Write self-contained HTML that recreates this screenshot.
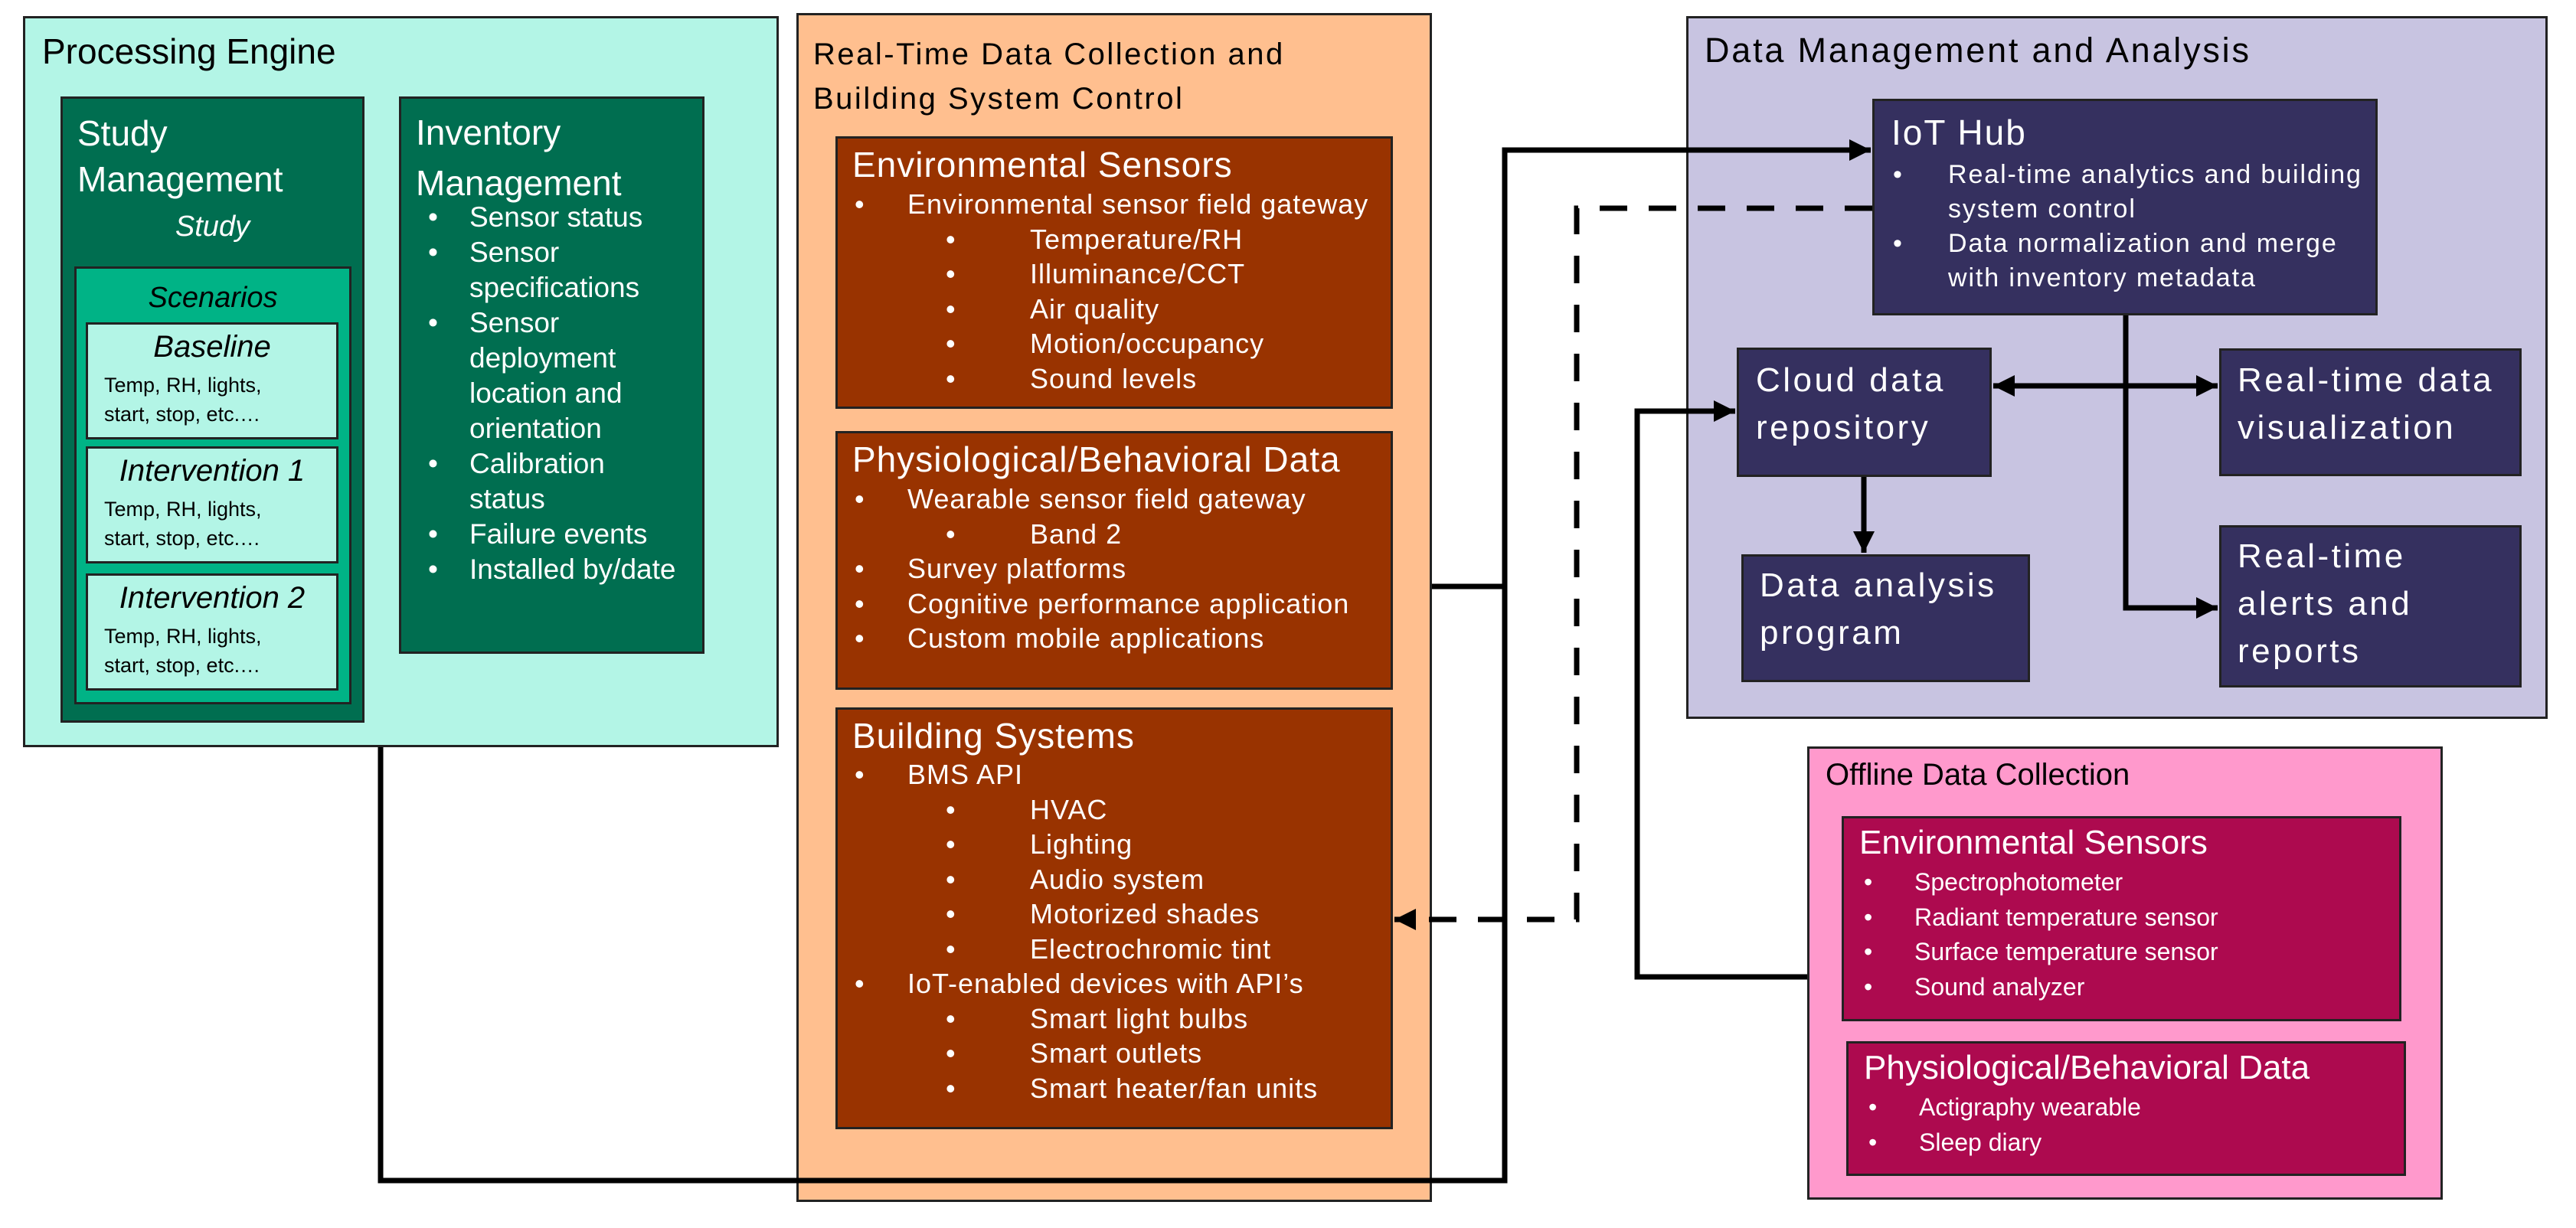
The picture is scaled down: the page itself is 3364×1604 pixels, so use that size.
<!DOCTYPE html>
<html><head><meta charset="utf-8"><style>
*{margin:0;padding:0;box-sizing:border-box}
body{width:3364px;height:1604px;background:#fff;position:relative;overflow:hidden;font-family:"Liberation Sans",sans-serif}
.b{position:absolute;border:3px solid #222}
.t{position:absolute;white-space:nowrap}
.w{color:#fff}
ul{list-style:none}
li{position:relative;white-space:nowrap}
li:before{content:"•";position:absolute;left:-69px}
li.s{margin-left:160px}
li.s:before{left:-110px}
.inv li:before{left:-54px}
.off li:before{left:-66px}
.iot li:before{left:-72px}
.nv{letter-spacing:3.5px;font-size:44px;line-height:62px}
.or{font-size:36px;letter-spacing:1px;line-height:45.5px}
.oh{font-size:46px;letter-spacing:1px}
</style></head><body>

<!-- Processing Engine -->
<div class="b" style="left:30px;top:21px;width:987px;height:955px;background:#b3f5e6"></div>
<div class="t" style="left:55px;top:40px;font-size:46px">Processing Engine</div>
<div class="b" style="left:79px;top:126px;width:397px;height:818px;background:#006e50"></div>
<div class="t w" style="left:101px;top:144px;font-size:46px;line-height:60px">Study<br>Management</div>
<div class="t w" style="left:79px;width:397px;text-align:center;top:275px;font-size:38px;font-style:italic">Study</div>
<div class="b" style="left:97px;top:348px;width:362px;height:572px;background:#00b386"></div>
<div class="t" style="left:97px;width:362px;text-align:center;top:368px;font-size:38px;font-style:italic">Scenarios</div>

<div class="b" style="left:112px;top:421px;width:330px;height:153px;background:#b3f5e6"></div>
<div class="t" style="left:112px;width:330px;text-align:center;top:431px;font-size:40px;font-style:italic">Baseline</div>
<div class="t" style="left:136px;top:484px;font-size:27px;line-height:38px">Temp, RH, lights,<br>start, stop, etc.…</div>
<div class="b" style="left:112px;top:583px;width:330px;height:153px;background:#b3f5e6"></div>
<div class="t" style="left:112px;width:330px;text-align:center;top:593px;font-size:40px;font-style:italic">Intervention 1</div>
<div class="t" style="left:136px;top:646px;font-size:27px;line-height:38px">Temp, RH, lights,<br>start, stop, etc.…</div>
<div class="b" style="left:112px;top:749px;width:330px;height:153px;background:#b3f5e6"></div>
<div class="t" style="left:112px;width:330px;text-align:center;top:759px;font-size:40px;font-style:italic">Intervention 2</div>
<div class="t" style="left:136px;top:812px;font-size:27px;line-height:38px">Temp, RH, lights,<br>start, stop, etc.…</div>

<div class="b" style="left:521px;top:126px;width:399px;height:728px;background:#006e50"></div>
<div class="t w" style="left:543px;top:140px;font-size:46px;line-height:66px">Inventory<br>Management</div>
<ul class="t w inv" style="left:613px;top:261px;font-size:37px;line-height:46px">
<li>Sensor status</li><li>Sensor<br>specifications</li><li>Sensor<br>deployment<br>location and<br>orientation</li><li>Calibration<br>status</li><li>Failure events</li><li>Installed by/date</li></ul>

<!-- Real-time -->
<div class="b" style="left:1040px;top:17px;width:830px;height:1553px;background:#ffbf8f"></div>
<div class="t" style="left:1062px;top:42px;font-size:40px;line-height:58px;letter-spacing:2.5px">Real-Time Data Collection and<br>Building System Control</div>

<div class="b" style="left:1091px;top:178px;width:728px;height:356px;background:#993300"></div>
<div class="t w oh" style="left:1113px;top:188px">Environmental Sensors</div>
<ul class="t w or" style="left:1185px;top:244px">
<li>Environmental sensor field gateway</li><li class="s">Temperature/RH</li><li class="s">Illuminance/CCT</li><li class="s">Air quality</li><li class="s">Motion/occupancy</li><li class="s">Sound levels</li></ul>

<div class="b" style="left:1091px;top:563px;width:728px;height:338px;background:#993300"></div>
<div class="t w oh" style="left:1113px;top:573px">Physiological/Behavioral Data</div>
<ul class="t w or" style="left:1185px;top:629px">
<li>Wearable sensor field gateway</li><li class="s">Band 2</li><li>Survey platforms</li><li>Cognitive performance application</li><li>Custom mobile applications</li></ul>

<div class="b" style="left:1091px;top:924px;width:728px;height:551px;background:#993300"></div>
<div class="t w oh" style="left:1113px;top:934px">Building Systems</div>
<ul class="t w or" style="left:1185px;top:989px">
<li>BMS API</li><li class="s">HVAC</li><li class="s">Lighting</li><li class="s">Audio system</li><li class="s">Motorized shades</li><li class="s">Electrochromic tint</li><li>IoT-enabled devices with API’s</li><li class="s">Smart light bulbs</li><li class="s">Smart outlets</li><li class="s">Smart heater/fan units</li></ul>

<!-- Data mgmt -->
<div class="b" style="left:2202px;top:21px;width:1125px;height:918px;background:#c8c4e1"></div>
<div class="t" style="left:2226px;top:40px;font-size:45px;letter-spacing:2.8px">Data Management and Analysis</div>
<div class="b" style="left:2445px;top:129px;width:660px;height:283px;background:#35305f"></div>
<div class="t w" style="left:2470px;top:146px;font-size:46px;letter-spacing:2px">IoT Hub</div>
<ul class="t w iot" style="left:2544px;top:206px;font-size:34px;line-height:45px;letter-spacing:1.9px">
<li>Real-time analytics and building<br>system control</li><li>Data normalization and merge<br>with inventory metadata</li></ul>
<div class="b" style="left:2268px;top:454px;width:333px;height:169px;background:#35305f"></div>
<div class="t w nv" style="left:2293px;top:466px">Cloud data<br>repository</div>
<div class="b" style="left:2274px;top:724px;width:377px;height:167px;background:#35305f"></div>
<div class="t w nv" style="left:2298px;top:734px">Data analysis<br>program</div>
<div class="b" style="left:2898px;top:455px;width:395px;height:167px;background:#35305f"></div>
<div class="t w nv" style="left:2922px;top:466px">Real-time data<br>visualization</div>
<div class="b" style="left:2898px;top:686px;width:395px;height:212px;background:#35305f"></div>
<div class="t w nv" style="left:2922px;top:696px">Real-time<br>alerts and<br>reports</div>

<!-- Offline -->
<div class="b" style="left:2360px;top:975px;width:830px;height:592px;background:#ff99cc"></div>
<div class="t" style="left:2384px;top:990px;font-size:40px">Offline Data Collection</div>
<div class="b" style="left:2405px;top:1066px;width:731px;height:268px;background:#ad0a4f"></div>
<div class="t w" style="left:2428px;top:1076px;font-size:44px">Environmental Sensors</div>
<ul class="t w off" style="left:2500px;top:1130px;font-size:32px;line-height:45.5px">
<li>Spectrophotometer</li><li>Radiant temperature sensor</li><li>Surface temperature sensor</li><li>Sound analyzer</li></ul>
<div class="b" style="left:2411px;top:1360px;width:731px;height:176px;background:#ad0a4f"></div>
<div class="t w" style="left:2434px;top:1370px;font-size:44px">Physiological/Behavioral Data</div>
<ul class="t w off" style="left:2506px;top:1424px;font-size:32px;line-height:45.5px">
<li>Actigraphy wearable</li><li>Sleep diary</li></ul>

<svg width="3364" height="1604" style="position:absolute;left:0;top:0">
<defs><marker id="a" markerWidth="4" markerHeight="4" refX="4" refY="2" orient="auto" markerUnits="strokeWidth"><path d="M0,0 L4,2 L0,4 z" fill="#000"/></marker></defs>
<g fill="none" stroke="#000" stroke-width="7">
<path d="M497 976 V1542 H1965 V196 H2443" marker-end="url(#a)"/>
<path d="M1870 766 H1965"/>
<path d="M2445 272 H2059 V1201 H1821" stroke-dasharray="36 28" marker-end="url(#a)"/>
<path d="M2776 412 V794 H2896" marker-end="url(#a)"/>
<path d="M2776 504 H2896" marker-end="url(#a)"/>
<path d="M2776 504 H2603" marker-end="url(#a)"/>
<path d="M2434 623 V722" marker-end="url(#a)"/>
<path d="M2360 1276 H2138 V537 H2266" marker-end="url(#a)"/>
</g></svg>
</body></html>
